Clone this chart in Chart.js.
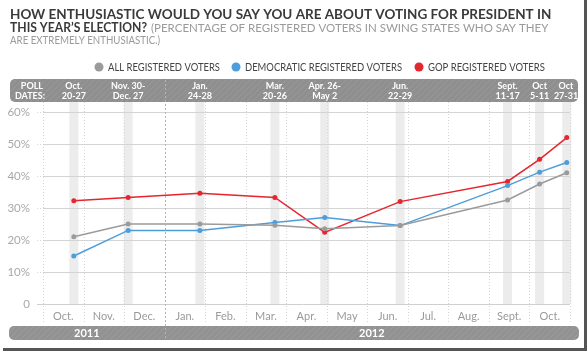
<!DOCTYPE html>
<html>
<head>
<meta charset="utf-8">
<script src="https://cdn.jsdelivr.net/npm/chart.js@4.4.0/dist/chart.umd.min.js"></script>
<style>
  html, body { margin: 0; padding: 0; background: #fff; }
  canvas { display: block; }
</style>
</head>
<body>
<canvas id="enthChart" width="588" height="352"></canvas>
<script>
// x = months since Oct 1, 2011 (middle of each poll's field dates)
const pollPos = [0.76, 2.1, 3.87, 5.72, 6.95, 8.81, 11.46, 12.25, 12.92];
const pollLabels = [
  ['Oct.', '20-27'], ['Nov. 30-', 'Dec. 27'], ['Jan.', '24-28'], ['Mar.', '20-26'],
  ['Apr. 26-', 'May 2'], ['Jun.', '22-29'], ['Sept.', '11-17'], ['Oct', '5-11'], ['Oct', '27-31']
];
const allVoters = [21, 25, 25, 24.6, 23.5, 24.5, 32.5, 37.5, 41];
const demVoters = [15, 23, 23, 25.5, 27, 24.5, 37, 41.2, 44.2];
const gopVoters = [32.3, 33.3, 34.6, 33.3, 22.4, 32, 38.3, 45.2, 52];
const monthLabels = ['Oct.', 'Nov.', 'Dec.', 'Jan.', 'Feb.', 'Mar.', 'Apr.', 'May', 'Jun.', 'Jul.', 'Aug.', 'Sept.', 'Oct.'];
const yearLabels = ['2011', '2012'];
const yearStart = 3; // Jan 2012
const seriesNames = ['ALL REGISTERED VOTERS', 'DEMOCRATIC REGISTERED VOTERS', 'GOP REGISTERED VOTERS'];
const seriesColors = ['#9b9b9b', '#4d9ddb', '#e5262f'];

const FONT = 'Lato, "Open Sans", sans-serif';

function pts(vals) {
  return pollPos.map(function(x, i) { return { x: x, y: vals[i] }; });
}

function hatch(base, line) {
  var c = document.createElement('canvas');
  c.width = 6; c.height = 6;
  var g = c.getContext('2d');
  g.fillStyle = base; g.fillRect(0, 0, 6, 6);
  g.strokeStyle = line; g.lineWidth = 1;
  g.beginPath(); g.moveTo(0, 6); g.lineTo(6, 0); g.stroke();
  return c;
}

function roundBox(ctx, x, y, w, h, r) {
  ctx.beginPath();
  ctx.moveTo(x + r, y);
  ctx.arcTo(x + w, y, x + w, y + h, r);
  ctx.arcTo(x + w, y + h, x, y + h, r);
  ctx.arcTo(x, y + h, x, y, r);
  ctx.arcTo(x, y, x + w, y, r);
  ctx.closePath();
}

// background pieces: poll bands and month lines
const backPlugin = {
  id: 'back',
  beforeDraw: function(chart) {
    var ctx = chart.ctx, xs = chart.scales.x, area = chart.chartArea;
    ctx.save();
    ctx.fillStyle = '#ececec';
    pollPos.forEach(function(p) {
      var px = xs.getPixelForValue(p);
      ctx.fillRect(px - 4.5, 102, 9, area.bottom - 102);
    });
    ctx.strokeStyle = '#d6d6d6';
    ctx.lineWidth = 1;
    ctx.setLineDash([1, 2]);
    for (var i = 0; i <= monthLabels.length; i++) {
      if (i === yearStart) continue;
      var mx = Math.round(xs.getPixelForValue(i)) + 0.5;
      ctx.beginPath(); ctx.moveTo(mx, 102); ctx.lineTo(mx, 322); ctx.stroke();
    }
    ctx.restore();
  },
  afterDraw: function(chart) {
    var ctx = chart.ctx, xs = chart.scales.x, area = chart.chartArea;
    ctx.save();

    // title
    ctx.textBaseline = 'alphabetic';
    ctx.textAlign = 'left';
    ctx.fillStyle = '#3a3a3a';
    ctx.font = 'bold 13.5px ' + FONT;
    ctx.fillText('HOW ENTHUSIASTIC WOULD YOU SAY YOU ARE ABOUT VOTING FOR PRESIDENT IN', 10, 19, 545);
    var l2 = 'THIS YEAR\u2019S ELECTION?';
    ctx.fillText(l2, 10, 32, 137);
    var w2 = Math.min(ctx.measureText(l2).width, 137);
    ctx.fillStyle = '#9a9a9a';
    ctx.font = '11.5px ' + FONT;
    ctx.fillText('(PERCENTAGE OF REGISTERED VOTERS IN SWING STATES WHO SAY THEY', 10 + w2 + 4, 32, 553 - (10 + w2 + 4));
    ctx.fillText('ARE EXTREMELY ENTHUSIASTIC.)', 10, 44, 150);

    // legend
    var legX = [99, 236, 419];
    var legW = [112, 157, 117];
    ctx.font = '10.5px ' + FONT;
    ctx.textBaseline = 'middle';
    seriesNames.forEach(function(n, i) {
      ctx.fillStyle = seriesColors[i];
      ctx.beginPath(); ctx.arc(legX[i], 67, 4.5, 0, Math.PI * 2); ctx.fill();
      ctx.fillStyle = '#444';
      ctx.fillText(n, legX[i] + 9, 67.5, legW[i]);
    });

    // poll dates bar
    ctx.fillStyle = ctx.createPattern(hatch('#8f8f8f', '#999999'), 'repeat');
    roundBox(ctx, 10, 79, 568, 23, 5); ctx.fill();
    ctx.fillStyle = '#fff';
    ctx.font = 'bold 9px ' + FONT;
    ctx.textBaseline = 'alphabetic';
    ctx.textAlign = 'right';
    ctx.fillText('POLL', 43, 89);
    ctx.fillText('DATES:', 45, 99);
    ctx.textAlign = 'center';
    pollPos.forEach(function(p, i) {
      var px = Math.min(xs.getPixelForValue(p), 566);
      ctx.fillText(pollLabels[i][0], px, 89);
      ctx.fillText(pollLabels[i][1], px, 99);
    });

    // zero line
    ctx.strokeStyle = '#cfcfcf';
    ctx.lineWidth = 1;
    ctx.beginPath(); ctx.moveTo(37, Math.round(area.bottom) + 0.5); ctx.lineTo(area.right, Math.round(area.bottom) + 0.5); ctx.stroke();

    // month labels
    ctx.fillStyle = '#9a9a9a';
    ctx.font = '11px ' + FONT;
    ctx.textBaseline = 'middle';
    monthLabels.forEach(function(m, i) {
      ctx.fillText(m, xs.getPixelForValue(i + 0.5), 316);
    });

    // year bar
    ctx.fillStyle = ctx.createPattern(hatch('#929292', '#9c9c9c'), 'repeat');
    roundBox(ctx, 9, 326, 570, 14, 5); ctx.fill();
    var yb = xs.getPixelForValue(yearStart);
    ctx.fillStyle = '#fff';
    ctx.font = 'bold 11px ' + FONT;
    ctx.fillText(yearLabels[0], (9 + yb) / 2, 333.5);
    ctx.fillText(yearLabels[1], (yb + 579) / 2, 333.5);

    // year divider
    ctx.strokeStyle = '#b5b5b5';
    ctx.setLineDash([2, 2]);
    var bx = Math.round(yb) + 0.5;
    ctx.beginPath(); ctx.moveTo(bx, 80); ctx.lineTo(bx, 340); ctx.stroke();
    ctx.setLineDash([]);

    // frame shadow
    ctx.fillStyle = '#555';
    ctx.fillRect(584, 0, 3, 350);
    ctx.fillRect(3, 348, 584, 3);
    ctx.restore();
  }
};

function makeSet(label, vals, color) {
  return {
    label: label,
    data: pts(vals),
    borderColor: color,
    backgroundColor: color,
    borderWidth: 1.5,
    pointRadius: 2.5,
    pointBorderWidth: 0,
    pointBackgroundColor: color,
    tension: 0
  };
}

new Chart(document.getElementById('enthChart').getContext('2d'), {
  type: 'line',
  data: {
    datasets: [
      makeSet(seriesNames[0], allVoters, seriesColors[0]),
      makeSet(seriesNames[1], demVoters, seriesColors[1]),
      makeSet(seriesNames[2], gopVoters, seriesColors[2])
    ]
  },
  options: {
    responsive: false,
    devicePixelRatio: 1,
    animation: false,
    layout: { padding: { left: 0, right: 18, top: 112, bottom: 48 } },
    plugins: { legend: { display: false }, tooltip: { enabled: false } },
    scales: {
      x: {
        type: 'linear', min: 0, max: 13,
        display: false
      },
      y: {
        min: 0, max: 60,
        afterFit: function(scale) { scale.width = 43; },
        border: { display: false },
        grid: {
          color: function(c) { return c.tick && c.tick.value === 0 ? 'rgba(0,0,0,0)' : '#d4d4d4'; },
          borderDash: [1, 2],
          tickBorderDash: [1, 2],
          tickLength: 6
        },
        ticks: {
          stepSize: 10,
          padding: 7,
          color: '#a8a8a8',
          font: { family: FONT, size: 11.5 },
          callback: function(v) { return v === 0 ? '0' : v + '%'; }
        }
      }
    }
  },
  plugins: [backPlugin]
});
</script>
</body>
</html>
